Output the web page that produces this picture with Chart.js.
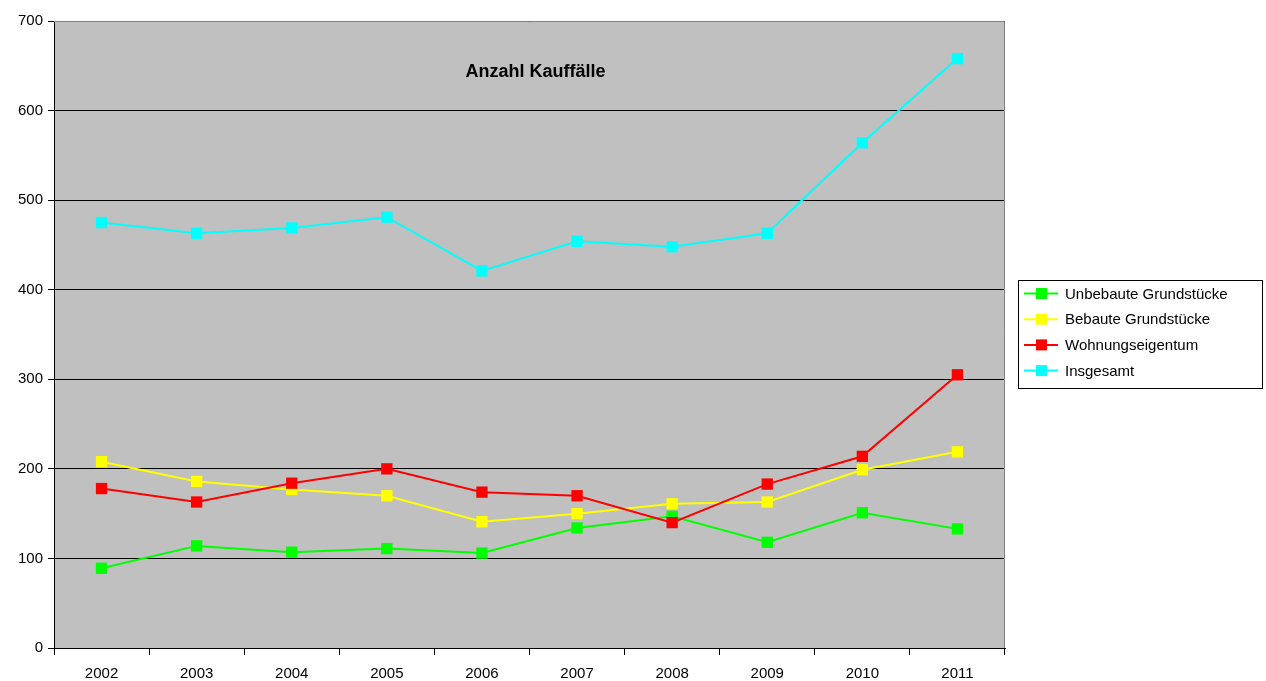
<!DOCTYPE html>
<html>
<head>
<meta charset="utf-8">
<script src="https://cdn.jsdelivr.net/npm/chart.js@4/dist/chart.umd.min.js"></script>
<style>
  html, body { margin: 0; padding: 0; background: #fff; }
  #wrap { width: 1266px; height: 681px; }
</style>
</head>
<body>
<div id="wrap"><canvas id="kaufChart"></canvas></div>
<script>
  // Daten
  const years = ['2002', '2003', '2004', '2005', '2006', '2007', '2008', '2009', '2010', '2011'];
  const unbebaut = [89, 114, 107, 111, 106, 134, 147, 118, 151, 133];
  const bebaut = [208, 186, 177, 170, 141, 150, 161, 163, 199, 219];
  const wohnung = [178, 163, 184, 200, 174, 170, 140, 183, 214, 305];
  const insgesamt = [475, 463, 469, 481, 421, 454, 448, 463, 564, 658];
  const yTicks = [0, 100, 200, 300, 400, 500, 600, 700];

  const fontName = '"Liberation Sans", Arial, sans-serif';

  // later series on top, like Excel
  function series(label, data, color, order) {
    return {
      label: label,
      data: data,
      order: order,
      borderColor: color,
      backgroundColor: color,
      borderWidth: 2,
      pointStyle: 'rect',
      pointRadius: 8,
      pointHoverRadius: 8,
      pointBorderWidth: 0,
      tension: 0
    };
  }

  // Hintergrund, Rahmen, Titel und Legende
  const excelLook = {
    id: 'excelLook',
    beforeDraw(chart) {
      const { ctx, chartArea: a } = chart;
      ctx.save();
      ctx.fillStyle = '#ffffff';
      ctx.fillRect(0, 0, chart.width, chart.height);
      ctx.fillStyle = '#c0c0c0';
      ctx.fillRect(a.left, a.top, a.right - a.left, a.bottom - a.top);
      ctx.restore();
    },
    afterDraw(chart) {
      const { ctx, chartArea: a } = chart;
      ctx.save();
      ctx.strokeStyle = '#808080';
      ctx.lineWidth = 1;
      ctx.beginPath();
      ctx.moveTo(a.left, a.top + 0.5);
      ctx.lineTo(a.right - 0.5, a.top + 0.5);
      ctx.lineTo(a.right - 0.5, a.bottom);
      ctx.stroke();

      ctx.fillStyle = '#000';
      ctx.font = 'bold 18px ' + fontName;
      ctx.textAlign = 'center';
      ctx.textBaseline = 'middle';
      ctx.fillText('Anzahl Kauffälle', (a.left + a.right) / 2 + 6, 72);

      // Legende
      const lx = a.right + 13, ly = 280, lw = 244, lh = 108;
      ctx.fillStyle = '#fff';
      ctx.fillRect(lx, ly, lw, lh);
      ctx.strokeStyle = '#000';
      ctx.strokeRect(lx + 0.5, ly + 0.5, lw, lh);
      ctx.font = '15px ' + fontName;
      ctx.textAlign = 'left';
      chart.data.datasets.forEach((ds, i) => {
        const y = ly + 13.5 + i * 25.7;
        ctx.strokeStyle = ds.borderColor;
        ctx.lineWidth = 2;
        ctx.beginPath();
        ctx.moveTo(lx + 6, y);
        ctx.lineTo(lx + 40, y);
        ctx.stroke();
        ctx.fillStyle = ds.backgroundColor;
        ctx.fillRect(lx + 18, y - 5.5, 11, 11);
        ctx.fillStyle = '#000';
        ctx.fillText(ds.label, lx + 47, y + 1);
      });
      ctx.restore();
    }
  };

  const ctx = document.getElementById('kaufChart').getContext('2d');
  new Chart(ctx, {
    type: 'line',
    data: {
      labels: years,
      datasets: [
        series('Unbebaute Grundstücke', unbebaut, '#00ff00', 4),
        series('Bebaute Grundstücke', bebaut, '#ffff00', 3),
        series('Wohnungseigentum', wohnung, '#ff0000', 2),
        series('Insgesamt', insgesamt, '#00ffff', 1)
      ]
    },
    options: {
      responsive: true,
      maintainAspectRatio: false,
      animation: false,
      layout: { padding: { left: 0, top: 21, right: 261, bottom: 0 } },
      plugins: {
        legend: { display: false },
        title: { display: false },
        tooltip: { enabled: false }
      },
      scales: {
        x: {
          offset: true,
          afterFit(scale) { scale.height = 33; },
          grid: {
            offset: true,
            drawOnChartArea: false,
            color: '#000',
            tickLength: 7
          },
          border: { display: true, color: '#000', width: 1 },
          ticks: {
            color: '#000',
            padding: 10,
            maxRotation: 0,
            font: { family: fontName, size: 15 }
          }
        },
        y: {
          min: 0,
          max: 700,
          afterFit(scale) { scale.width = 54; },
          afterBuildTicks(scale) { scale.ticks = yTicks.map(v => ({ value: v })); },
          grid: { color: '#000', tickLength: 6, lineWidth: 1 },
          border: { display: true, color: '#000', width: 1 },
          ticks: {
            color: '#000',
            padding: 5,
            font: { family: fontName, size: 15 }
          }
        }
      }
    },
    plugins: [excelLook]
  });
</script>
</body>
</html>
